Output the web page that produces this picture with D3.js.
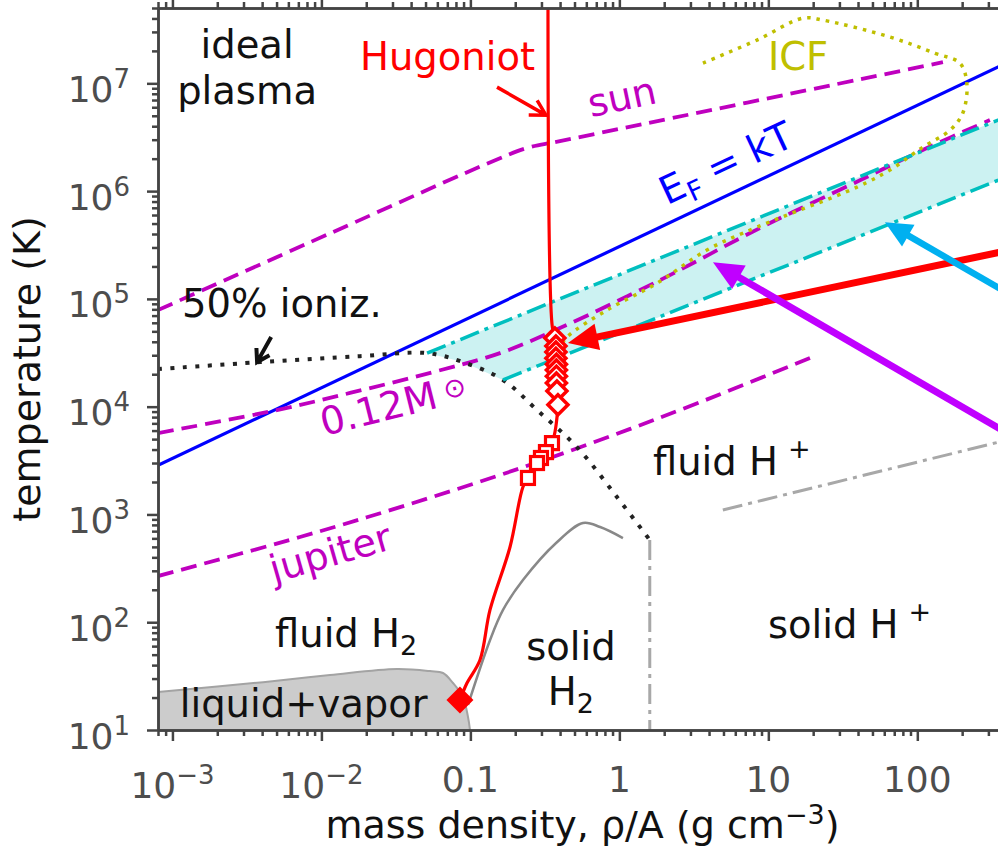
<!DOCTYPE html>
<html>
<head>
<meta charset="utf-8">
<script src="https://cdn.jsdelivr.net/npm/d3@7"></script>
<style>
  body { margin: 0; background: #fff; }
  svg { display: block; font-family: 'DejaVu Sans', sans-serif; }
</style>
</head>
<body>
<svg id="chart"></svg>
<script>
// axis set-up
const xDomain = [8e-4, 400]
const yDomain = [10, 5e7]
const xMajor = [1e-3, 1e-2, 0.1, 1, 10, 100]
const xMajorLabels = [['10', '−3'], ['10', '−2'], ['0.1', ''], ['1', ''], ['10', ''], ['100', '']]
const yMajor = [1e1, 1e2, 1e3, 1e4, 1e5, 1e6, 1e7]
const yMajorLabels = [['10', '1'], ['10', '2'], ['10', '3'], ['10', '4'], ['10', '5'], ['10', '6'], ['10', '7']]

// curves, [density g/cc, temperature K]
const fermi = [[8e-4, 2.86e3], [400, 1.55e7]]
const sun = [[8e-4, 7.87e4], [0.01197, 4.17e5], [0.158, 2.02e6], [0.251, 2.56e6], [0.399, 2.91e6], [148.6, 1.57e7]]
const star012 = [[8e-4, 5.69e3], [5.03e-3, 9.3e3], [0.01556, 1.34e4], [0.0561, 2.09e4], [0.158, 3.14e4],
  [0.399, 5.36e4], [1.87, 1.49e5], [8.78, 4.54e5], [41.2, 1.26e6], [116, 2.51e6], [307, 4.56e6]]
const jupiter = [[8e-4, 268], [7.18e-3, 617], [0.0337, 1.17e3], [0.158, 2.32e3], [0.741, 4.9e3], [3.48, 1.1e4], [21.2, 3.01e4]]
const ioniz50 = [[8e-4, 2.23e4], [3.87e-3, 2.59e4], [0.01815, 2.94e4], [0.0512, 3.14e4], [0.0891, 2.59e4],
  [0.1656, 1.77e4], [0.28, 9.3e3], [0.519, 4.22e3], [0.964, 1.45e3], [1.6, 580]]
const bandUpper = [[0.0512, 3.14e4], [400, 4.93e6]]
const bandLower = [[0.1656, 1.77e4], [400, 1.36e6]]
const solidLimit = [[1.6, 580], [1.6, 10]]
const plasmaMelt = [[4.95, 1.1e3], [400, 4.9e3]]
const liquidVapor = [[8e-4, 22.5], [4.06e-3, 27.8], [0.01143, 32.4], [0.0321, 36.8], [0.0536, 35.2],
  [0.0655, 33.8], [0.0764, 27.3], [0.0891, 20.2], [0.0964, 13.2], [0.0994, 10]]
const melting = [[0.0964, 17.1], [0.1354, 68], [0.1656, 130], [0.2254, 246], [0.376, 543], [0.57, 832], [0.743, 764], [1.057, 604]]
const icf = [[3.64, 1.54e7], [8.39, 2.52e7], [17.1, 4.03e7], [23.2, 3.86e7], [65.5, 2.69e7], [131.7, 1.9e7],
  [193, 1.54e7], [215, 1.0e7], [202, 5.3e6], [166, 3.68e6], [109, 2.56e6], [65.5, 1.57e6], [39.4, 1.09e6],
  [8.39, 4.63e5], [3.87, 2.84e5], [1.79, 1.4e5], [0.826, 7.87e4], [0.445, 4.43e4], [0.399, 3.57e4]]
const hugoniot = [[0.332, 7e7], [0.355, 5.47e4], [0.372, 4.33e4], [0.378, 2.5e4], [0.387, 1.04e4], [0.353, 4.59e3],
  [0.3216, 3.79e3], [0.2977, 3.34e3], [0.28, 3.0e3], [0.2435, 2.18e3], [0.225, 1.79e3], [0.1845, 499],
  [0.1354, 130], [0.116, 44.6], [0.0949, 27.3], [0.0851, 19]]
const hugDiamonds = [[0.369, 4.33e4], [0.375, 3.65e4], [0.375, 3.21e4], [0.375, 2.82e4], [0.378, 2.48e4],
  [0.378, 2.19e4], [0.378, 1.92e4], [0.378, 1.66e4], [0.381, 1.4e4], [0.387, 1.04e4]]
const hugSquares = [[0.353, 4.59e3], [0.3216, 3.79e3], [0.2977, 3.34e3], [0.28, 3.0e3], [0.2435, 2.18e3]]
const tripleDiamond = [[0.0851, 19]]

// arrows, [tail, tip]
const hugArrow = [[0.1509, 9.22e6], [0.3216, 5.07e6]]
const ionizArrow = [[4.6e-3, 4.43e4], [3.7e-3, 2.59e4]]
const redArrow = [[419, 2.84e5], [0.452, 3.89e4]]
const blueArrow = [[419, 1.1e5], [60.6, 5.15e5]]
const purpleArrow = [[419, 5.5e3], [4.25, 2.19e5]]

let width = 998
let height = 855
let margin = { top: 8, left: 158, right: -9, bottom: 125 }
let plotW = width - margin.left - margin.right
let plotH = height - margin.top - margin.bottom

let svg = d3.select('#chart').attr('width', width).attr('height', height)
let g = svg.append('g').attr('transform', 'translate(' + margin.left + ',' + margin.top + ')')

let x = d3.scaleLog().domain(xDomain).range([0, plotW])
let y = d3.scaleLog().domain(yDomain).range([plotH, 0])

svg.append('defs').append('clipPath').attr('id', 'plot-clip')
  .append('rect').attr('width', plotW).attr('height', plotH)

let line = d3.line().x(d => x(d[0])).y(d => y(d[1]))
let smooth = d3.line().x(d => x(d[0])).y(d => y(d[1])).curve(d3.curveCatmullRom.alpha(0.5))

let plot = g.append('g').attr('clip-path', 'url(#plot-clip)')

const magenta = '#bf00bf'
const cyan = '#00bfbf'
const olive = '#bfbf00'

// shaded band
plot.append('path')
  .attr('d', line(bandUpper.concat(bandLower.slice().reverse(), [ioniz50[4]])) + 'Z')
  .attr('fill', cyan).attr('fill-opacity', 0.2)

// liquid + vapor
plot.append('path')
  .attr('d', smooth(liquidVapor) + 'L' + x(xDomain[0]) + ',' + y(10) + 'Z')
  .attr('fill', '#cccccc')
plot.append('path').attr('d', smooth(liquidVapor))
  .attr('fill', 'none').attr('stroke', '#a3a3a3').attr('stroke-width', 2)

function curve(data, gen, color, w, dash) {
  plot.append('path').attr('d', gen(data))
    .attr('fill', 'none').attr('stroke', color).attr('stroke-width', w)
    .attr('stroke-dasharray', dash || null)
}

curve(fermi, line, '#0000ff', 3.2)
curve(sun, smooth, magenta, 3.8, '16,8')
curve(star012, smooth, magenta, 3.8, '16,8')
curve(jupiter, smooth, magenta, 3.8, '16,8')
curve(ioniz50, smooth, '#222', 4, '4,8.5')
curve(bandUpper, line, cyan, 3.5, '20,6,4,6')
curve(bandLower, line, cyan, 3.5, '20,6,4,6')
curve(solidLimit, line, '#a8a8a8', 3, '20,6,4,6')
curve(plasmaMelt, line, '#a8a8a8', 3, '20,6,4,6')
curve(melting, smooth, '#888888', 2.5)
curve(icf, smooth, olive, 3.5, '3.5,6')
curve(hugoniot, smooth, '#ff0000', 3.2)

// markers
let diamond = r => 'M0,' + (-r) + 'L' + r + ',0L0,' + r + 'L' + (-r) + ',0Z'
plot.selectAll('.hug-d').data(hugDiamonds).enter().append('path')
  .attr('class', 'hug-d')
  .attr('d', diamond(10))
  .attr('transform', d => 'translate(' + x(d[0]) + ',' + y(d[1]) + ')')
  .attr('fill', '#fff').attr('stroke', '#ff0000').attr('stroke-width', 3.5)
plot.selectAll('.hug-s').data(hugSquares).enter().append('rect')
  .attr('class', 'hug-s')
  .attr('x', d => x(d[0]) - 6.5).attr('y', d => y(d[1]) - 6.5)
  .attr('width', 13).attr('height', 13)
  .attr('fill', '#fff').attr('stroke', '#ff0000').attr('stroke-width', 3.2)
plot.selectAll('.triple').data(tripleDiamond).enter().append('path')
  .attr('class', 'triple')
  .attr('d', diamond(13.5))
  .attr('transform', d => 'translate(' + x(d[0]) + ',' + y(d[1]) + ')')
  .attr('fill', '#ff0000')

// axes
let xMinor = x.ticks().filter(v => xMajor.indexOf(v) < 0)
let yMinor = y.ticks().filter(v => yMajor.indexOf(v) < 0)

function styleAxis(sel) {
  sel.selectAll('path, line').attr('stroke', '#444').attr('stroke-width', 2.5)
  sel.selectAll('text').remove()
}
let axes = [
  [d3.axisBottom, x, xMinor, xMajor, 'translate(0,' + plotH + ')'],
  [d3.axisTop, x, xMinor, xMajor, null],
  [d3.axisLeft, y, yMinor, yMajor, null],
  [d3.axisRight, y, yMinor, yMajor, 'translate(' + plotW + ',0)']
]
axes.forEach(([make, sc, minor, major, tr]) => {
  g.append('g').attr('transform', tr)
    .call(make(sc).tickValues(minor).tickSize(6).tickSizeOuter(0).tickFormat(''))
    .call(styleAxis)
  g.append('g').attr('transform', tr)
    .call(make(sc).tickValues(major).tickSize(11).tickSizeOuter(0).tickFormat(''))
    .call(styleAxis)
})

// tick labels
let tickSize = 36
xMajor.forEach((v, i) => {
  let [base, sup] = xMajorLabels[i]
  let t = g.append('text')
    .attr('x', x(v)).attr('y', plotH + (sup ? 68 : 62))
    .attr('text-anchor', 'middle').attr('fill', '#4d4d4d').attr('font-size', tickSize)
  t.append('tspan').text(base)
  if (sup) t.append('tspan').attr('dy', -14).attr('font-size', 26).text(sup)
})
yMajor.forEach((v, i) => {
  let [base, sup] = yMajorLabels[i]
  let t = g.append('text')
    .attr('x', -28).attr('y', y(v) + 18.5)
    .attr('text-anchor', 'end').attr('fill', '#4d4d4d').attr('font-size', tickSize)
  t.append('tspan').text(base)
  t.append('tspan').attr('dy', -14).attr('font-size', 26).text(sup)
})

// axis titles
let xt = g.append('text')
  .attr('x', plotW / 2).attr('y', plotH + 108)
  .attr('text-anchor', 'middle').attr('font-size', 38).attr('fill', '#111')
xt.append('tspan').text('mass density, ρ/A (g cm')
xt.append('tspan').attr('dy', -14).attr('font-size', 27).text('−3')
xt.append('tspan').attr('dy', 14).text(')')

g.append('text')
  .attr('transform', 'translate(-118,' + plotH / 2 + ') rotate(-90)')
  .attr('text-anchor', 'middle').attr('font-size', 38).attr('fill', '#111')
  .text('temperature (K)')

// arrows
function solidArrow(pair, color, w, headLen, headW) {
  let p0 = [x(pair[0][0]), y(pair[0][1])]
  let p1 = [x(pair[1][0]), y(pair[1][1])]
  let len = Math.hypot(p1[0] - p0[0], p1[1] - p0[1])
  let ux = (p1[0] - p0[0]) / len, uy = (p1[1] - p0[1]) / len
  let bx = p1[0] - ux * headLen, by = p1[1] - uy * headLen
  g.append('line')
    .attr('x1', p0[0]).attr('y1', p0[1]).attr('x2', bx + ux * 2).attr('y2', by + uy * 2)
    .attr('stroke', color).attr('stroke-width', w)
  g.append('path')
    .attr('d', 'M' + p1[0] + ',' + p1[1] +
      'L' + (bx - uy * headW / 2) + ',' + (by + ux * headW / 2) +
      'L' + (bx + uy * headW / 2) + ',' + (by - ux * headW / 2) + 'Z')
    .attr('fill', color)
}
function openArrow(pair, color, w, headLen, headW) {
  let p0 = [x(pair[0][0]), y(pair[0][1])]
  let p1 = [x(pair[1][0]), y(pair[1][1])]
  let len = Math.hypot(p1[0] - p0[0], p1[1] - p0[1])
  let ux = (p1[0] - p0[0]) / len, uy = (p1[1] - p0[1]) / len
  let bx = p1[0] - ux * headLen, by = p1[1] - uy * headLen
  g.append('path')
    .attr('d', 'M' + p0[0] + ',' + p0[1] + 'L' + p1[0] + ',' + p1[1] +
      'M' + (bx - uy * headW / 2) + ',' + (by + ux * headW / 2) + 'L' + p1[0] + ',' + p1[1] +
      'L' + (bx + uy * headW / 2) + ',' + (by - ux * headW / 2))
    .attr('fill', 'none').attr('stroke', color).attr('stroke-width', w)
}
openArrow(hugArrow, '#ff0000', 3.5, 15, 17)
openArrow(ionizArrow, '#111', 4, 12, 15)
solidArrow(redArrow, '#ff0000', 7, 30, 27)
solidArrow(blueArrow, '#00b0f0', 6.5, 27, 25)
solidArrow(purpleArrow, '#c000ff', 7, 30, 27)

// labels
const labels = [
  { parts: [['ideal']], at: [3.17e-3, 1.7e7], anchor: 'middle', color: '#111' },
  { parts: [['plasma']], at: [3.17e-3, 6.4e6], anchor: 'middle', color: '#111' },
  { parts: [['Hugoniot']], at: [0.01815, 1.32e7], color: '#ff0000' },
  { parts: [['sun']], at: [0.645, 4.85e6], color: magenta, rotate: -12 },
  { parts: [['ICF']], at: [9.93, 1.32e7], color: olive },
  { parts: [['E'], ['F', 'sub'], [' = kT']], at: [2.09, 7.41e5], color: '#0000ff', rotate: -25 },
  { parts: [['50% ioniz.']], at: [1.16e-3, 6.78e4], color: '#111' },
  { parts: [['0.12M'], ['⊙', 'sun']], at: [0.0104, 5.33e3], color: magenta, rotate: -14 },
  { parts: [['jupiter']], at: [4.81e-3, 231], color: magenta, rotate: -16 },
  { parts: [['fluid H'], ['2', 'sub']], at: [4.88e-3, 58.9], color: '#111' },
  { parts: [['liquid+vapor']], at: [1.12e-3, 13.2], color: '#111' },
  { parts: [['solid']], at: [0.473, 44.6], anchor: 'middle', color: '#111' },
  { parts: [['H'], ['2', 'sub']], at: [0.473, 17.1], anchor: 'middle', color: '#111' },
  { parts: [['fluid H'], ['+', 'sup']], at: [1.68, 2.32e3], color: '#111' },
  { parts: [['solid H'], ['+', 'sup']], at: [9.93, 71.3], color: '#111' }
]
let labelSize = 38.5
labels.forEach(l => {
  let t = g.append('text')
    .attr('transform', 'translate(' + x(l.at[0]) + ',' + y(l.at[1]) + ')' + (l.rotate ? ' rotate(' + l.rotate + ')' : ''))
    .attr('text-anchor', l.anchor || 'start')
    .attr('font-size', labelSize)
    .attr('fill', l.color)
  let shift = 0
  l.parts.forEach(([s, kind]) => {
    let target = 0, size = labelSize, dx = 0
    if (kind === 'sub') { target = 8; size = 27 }
    if (kind === 'sup') { target = -17; size = 27; dx = 10 }
    if (kind === 'sun') { target = -6; size = 27; dx = 8 }
    t.append('tspan')
      .attr('dy', target - shift).attr('dx', dx || null)
      .attr('font-size', size).text(s)
    shift = target
  })
})
</script>
</body>
</html>
